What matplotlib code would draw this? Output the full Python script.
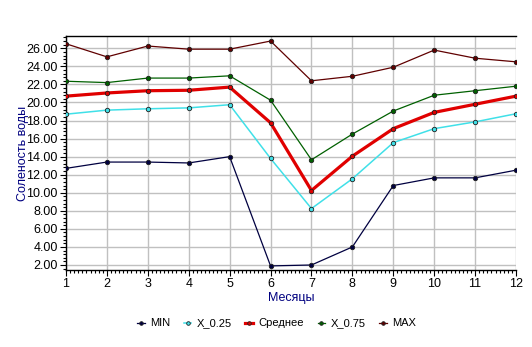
import matplotlib
matplotlib.use("Agg")
import matplotlib.pyplot as plt
from matplotlib.ticker import MultipleLocator, AutoMinorLocator, FormatStrFormatter

plt.rcParams['font.family'] = ['Liberation Sans', 'DejaVu Sans']

months = [1, 2, 3, 4, 5, 6, 7, 8, 9, 10, 11, 12]

min_vals = [12.7, 13.4, 13.4, 13.3, 14.0, 1.9, 2.0, 4.0, 10.8, 11.65, 11.65, 12.5]
x025_vals = [18.7, 19.15, 19.3, 19.4, 19.75, 13.8, 8.25, 11.55, 15.55, 17.1, 17.85, 18.75]
mean_vals = [20.7, 21.05, 21.3, 21.35, 21.7, 17.75, 10.25, 14.05, 17.1, 18.9, 19.8, 20.7]
x075_vals = [22.35, 22.2, 22.7, 22.7, 22.95, 20.25, 13.65, 16.5, 19.05, 20.8, 21.3, 21.8]
max_vals = [26.5, 25.05, 26.25, 25.9, 25.9, 26.8, 22.4, 22.9, 23.9, 25.8, 24.9, 24.5]

series = [
    ('MIN', min_vals, '#000040', 0.9),
    ('X_0.25', x025_vals, '#40e0e8', 1.1),
    ('Среднее', mean_vals, '#e00000', 2.3),
    ('X_0.75', x075_vals, '#006000', 0.9),
    ('MAX', max_vals, '#600000', 0.9),
]

fig = plt.figure(figsize=(5.32, 3.47), dpi=100)
ax = fig.add_axes([0.124, 0.222, 0.846, 0.674])

for name, vals, col, lw in series:
    ax.plot(months, vals, color=col, lw=lw, marker='o', markersize=3.2,
            markerfacecolor=col, markeredgecolor='#202020', markeredgewidth=0.6,
            label=name, zorder=3)

ax.set_xlim(1, 12)
ax.set_ylim(1.45, 27.35)
ax.xaxis.set_major_locator(MultipleLocator(1))
ax.xaxis.set_minor_locator(AutoMinorLocator(10))
ax.yaxis.set_major_locator(MultipleLocator(2))
ax.yaxis.set_minor_locator(AutoMinorLocator(5))
ax.yaxis.set_major_formatter(FormatStrFormatter('%.2f'))

ax.grid(True, which='major', color='#c0c0c0', lw=1)
ax.set_axisbelow(True)
ax.spines['right'].set_visible(False)
for s in ['left', 'top', 'bottom']:
    ax.spines[s].set_color('black')
    ax.spines[s].set_linewidth(1)

ax.tick_params(axis='both', which='major', length=4, width=0.8, labelsize=9, pad=2)
ax.tick_params(axis='both', which='minor', length=2, width=0.8)

ax.set_xlabel('Месяцы', color='#000080', fontsize=9, labelpad=1)
ax.set_ylabel('Соленость воды', color='#000080', fontsize=9)
ax.yaxis.set_label_coords(-0.083, 0.5)

leg = fig.legend(loc='center', bbox_to_anchor=(0.52, 0.068), ncol=5, frameon=False,
                 fontsize=8, handlelength=0.7, handletextpad=0.5, columnspacing=1.2)
for h in leg.legend_handles:
    h.set_markersize(2.6)

fig.savefig('out.png', dpi=100)
